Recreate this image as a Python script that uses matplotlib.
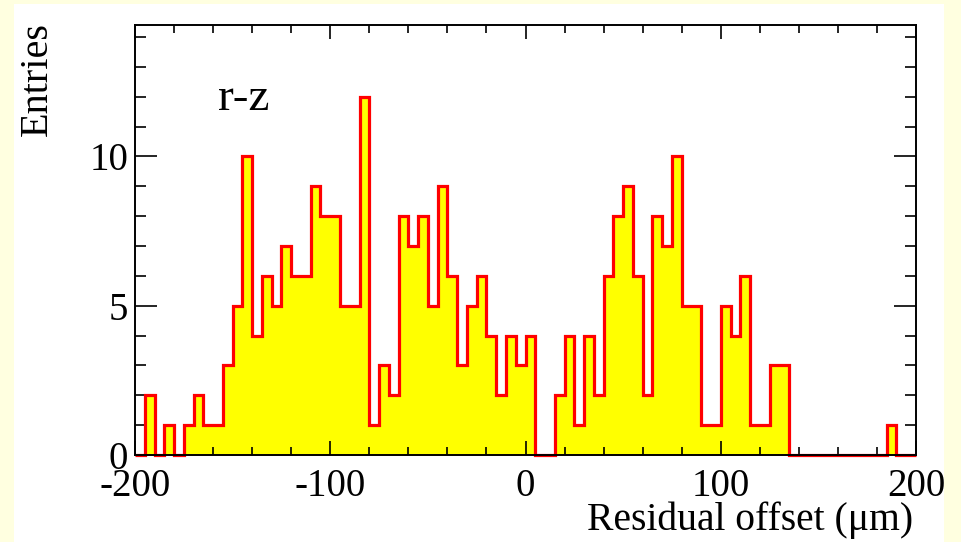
import numpy as np
import matplotlib
matplotlib.use("Agg")
import matplotlib.pyplot as plt
from matplotlib.patches import Rectangle
from matplotlib.ticker import MultipleLocator

# Histogram data: 80 bins of width 5 from -200 to 200
bin_edges = np.arange(-200, 201, 5)
counts = [
    0, 2, 0, 1, 0, 1, 2, 1, 1, 3,      # -200 .. -155
    5, 10, 4, 6, 5, 7, 6, 6, 9, 8,     # -150 .. -105
    8, 5, 5, 12, 1, 3, 2, 8, 7, 8,     # -100 .. -55
    5, 9, 6, 3, 5, 6, 4, 2, 4, 3,      # -50 .. -5
    4, 0, 0, 2, 4, 1, 4, 2, 6, 8,      # 0 .. 45
    9, 6, 2, 8, 7, 10, 5, 5, 1, 1,     # 50 .. 95
    5, 4, 6, 1, 1, 3, 3, 0, 0, 0,      # 100 .. 145
    0, 0, 0, 0, 0, 0, 0, 1, 0, 0,      # 150 .. 195
]
x_label = "Residual offset (\u03bcm)"
y_label = "Entries"
tag = "r-z"
xticks = [-200, -100, 0, 100, 200]
yticks = [0, 5, 10]

plt.rcParams['font.family'] = ['Liberation Serif', 'DejaVu Serif']

W, H = 961, 542
fig = plt.figure(figsize=(W / 100, H / 100), dpi=100)
fig.patch.set_facecolor('#FFFFE0')
fig.patches.append(Rectangle((14 / W, 0), (944 - 14) / W, (H - 4) / H,
                             transform=fig.transFigure, facecolor='white',
                             edgecolor='none', zorder=-10))

ax = fig.add_axes([135 / W, (H - 455) / H, (916 - 135) / W, (455 - 25) / H])
ax.set_zorder(1)
ax.set_facecolor('white')

ax.stairs(counts, bin_edges, fill=True, color='#FFFF00', baseline=0, zorder=1)
ax.axhline(0, color='black', lw=1.0, ls=(0, (1, 1.5)), zorder=2)
ax.stairs(counts, bin_edges, fill=False, color='#FF0000', baseline=0,
          lw=2.3, zorder=3, clip_on=False)

ax.set_xlim(-200, 200)
ax.set_ylim(0, 1.2 * max(counts))

ax.set_xticks(xticks)
ax.set_xticklabels([str(v) for v in xticks])
ax.set_yticks(yticks)
ax.set_yticklabels([str(v) for v in yticks])
ax.xaxis.set_minor_locator(MultipleLocator(20))
ax.yaxis.set_minor_locator(MultipleLocator(1))

ax.tick_params(axis='x', which='both', direction='in', top=True, bottom=True,
               labelsize=28, pad=9, width=1.2, colors='black')
ax.tick_params(axis='x', which='major', length=10)
ax.tick_params(axis='x', which='minor', length=5.5)
ax.tick_params(axis='y', which='both', direction='in', left=True, right=True,
               labelsize=28, pad=5, width=1.2)
ax.tick_params(axis='y', which='major', length=16)
ax.tick_params(axis='y', which='minor', length=8)

for s in ax.spines.values():
    s.set_linewidth(1.4)
    s.set_zorder(4)

fig.text(913 / W, 1 - 520 / H, x_label, ha='right', va='center', fontsize=28.5)
fig.text(37 / W, 1 - 22 / H, y_label, ha='center', va='top', rotation=90,
         fontsize=29)
fig.text(218 / W, 1 - 110 / H, tag, ha='left', va='baseline', fontsize=34)

fig.savefig('out.png', dpi=100, facecolor=fig.get_facecolor())
